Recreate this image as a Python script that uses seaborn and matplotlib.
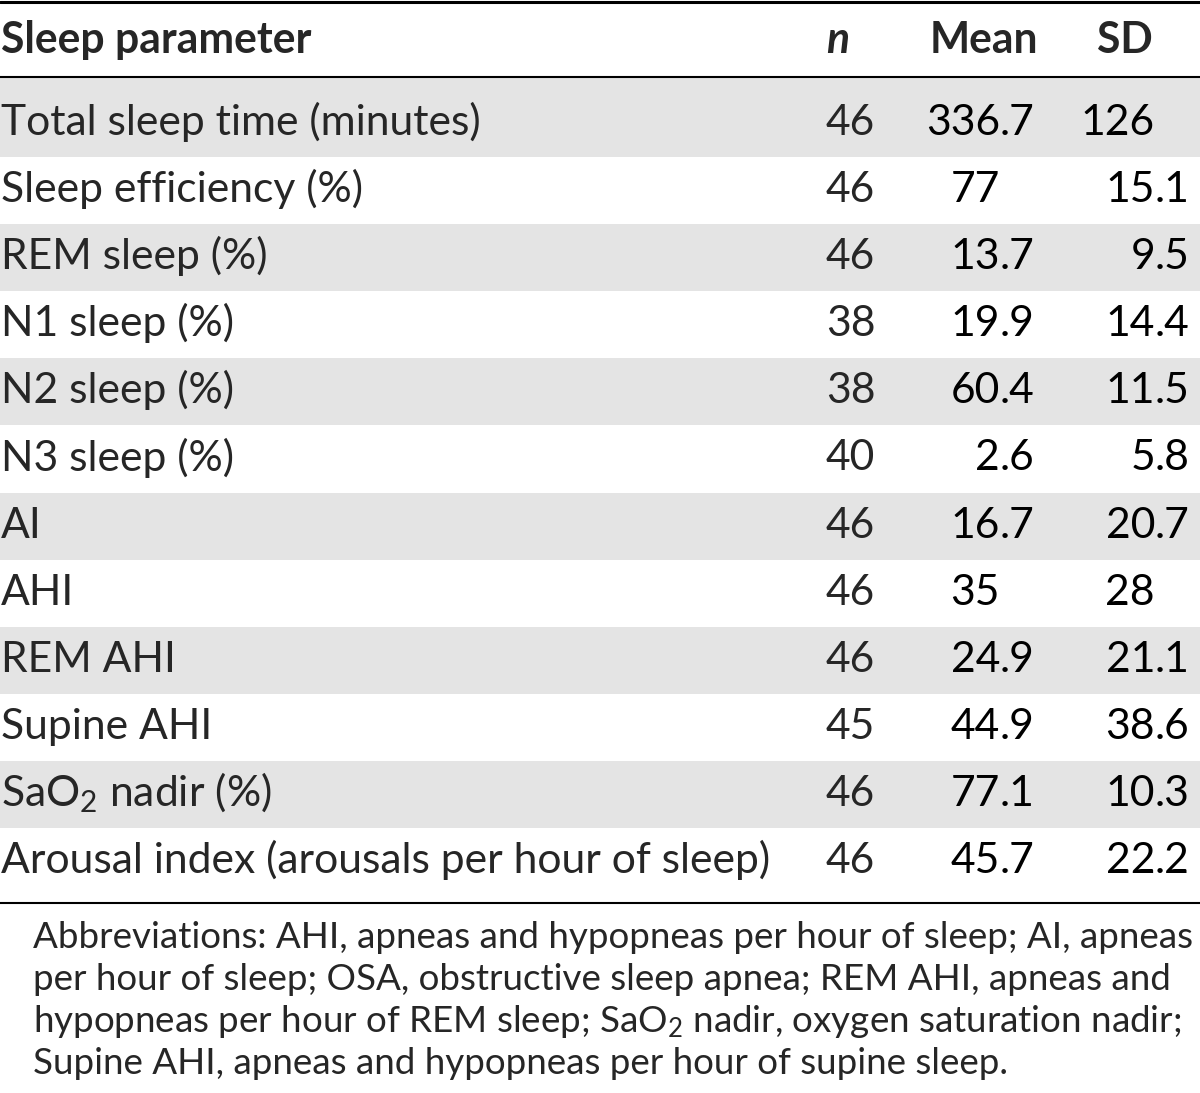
import matplotlib
matplotlib.use("Agg")
import matplotlib.pyplot as plt
import seaborn as sns

# table content
params = [
    "Total sleep time (minutes)",
    "Sleep efficiency (%)",
    "REM sleep (%)",
    "N1 sleep (%)",
    "N2 sleep (%)",
    "N3 sleep (%)",
    "AI",
    "AHI",
    "REM AHI",
    "Supine AHI",
    "SaO$_2$ nadir (%)",
    "Arousal index (arousals per hour of sleep)",
]
n_vals = [46, 46, 46, 38, 38, 40, 46, 46, 46, 45, 46, 46]
mean_vals = ["336.7", "77", "13.7", "19.9", "60.4", "2.6", "16.7", "35", "24.9", "44.9", "77.1", "45.7"]
sd_vals = ["126", "15.1", "9.5", "14.4", "11.5", "5.8", "20.7", "28", "21.1", "38.6", "10.3", "22.2"]
header = ["Sleep parameter", "n", "Mean", "SD"]
footnote_lines = [
    "Abbreviations: AHI, apneas and hypopneas per hour of sleep; AI, apneas",
    "per hour of sleep; OSA, obstructive sleep apnea; REM AHI, apneas and",
    "hypopneas per hour of REM sleep; SaO$_2$ nadir, oxygen saturation nadir;",
    "Supine AHI, apneas and hypopneas per hour of supine sleep.",
]

sns.set_theme(style="white")
plt.rcParams['font.family'] = ['Lato', 'DejaVu Sans']
plt.rcParams['mathtext.fontset'] = 'custom'
plt.rcParams['mathtext.rm'] = 'Lato'
plt.rcParams['mathtext.it'] = 'Lato:italic'
plt.rcParams['mathtext.bf'] = 'Lato:bold'

W, H = 1200, 1093
fig = plt.figure(figsize=(12, 10.93), dpi=100)
ax = fig.add_axes([0, 0, 1, 1])
ax.set_xlim(0, W)
ax.set_ylim(H, 0)
ax.axis('off')

body_fs = 30.7
foot_fs = 26.5
gray = "#e4e4e4"
row_h = 67.1
first_edge = 157
base0 = 135
x_n, x_mean, x_sd = 826, 1000, 1155

# row banding
n_rows = len(params)
for i in range(n_rows):
    top = 78 if i == 0 else first_edge + (i - 1) * row_h
    bot = 903 if i == n_rows - 1 else first_edge + i * row_h
    if i % 2 == 0:
        ax.axhspan(top, bot, color=gray, lw=0, zorder=0)


def decimal_text(x, y, s):
    # integer part right of the decimal mark, fraction left
    if "." in s:
        ip, fp = s.split(".")
        ax.text(x, y, ip, ha='right', va='baseline', fontsize=body_fs, color='black')
        ax.text(x, y, "." + fp, ha='left', va='baseline', fontsize=body_fs, color='black')
    else:
        ax.text(x, y, s, ha='right', va='baseline', fontsize=body_fs, color='black')


# header
hy = 53
ax.text(1, hy, header[0], ha='left', va='baseline', fontsize=body_fs, fontweight='bold')
ax.text(x_n, hy, header[1], ha='left', va='baseline', fontsize=body_fs, fontweight='bold', style='italic')
ax.text(930, hy, header[2], ha='left', va='baseline', fontsize=body_fs, fontweight='bold')
ax.text(1097, hy, header[3], ha='left', va='baseline', fontsize=body_fs, fontweight='bold')

# body rows
for i, (p, n, m, sd) in enumerate(zip(params, n_vals, mean_vals, sd_vals)):
    y = base0 + i * row_h
    ax.text(1, y, p, ha='left', va='baseline', fontsize=body_fs)
    ax.text(x_n, y, str(n), ha='left', va='baseline', fontsize=body_fs)
    decimal_text(x_mean, y, m)
    decimal_text(x_sd, y, sd)

# rules
ax.axhline(2, color='black', lw=2.2)
ax.axhline(77, color='black', lw=1.5)
ax.axhline(903, color='black', lw=1.5)

# footnote
for j, line in enumerate(footnote_lines):
    ax.text(33, 948 + j * 42, line, ha='left', va='baseline', fontsize=foot_fs)

fig.savefig("out.png", dpi=100)
